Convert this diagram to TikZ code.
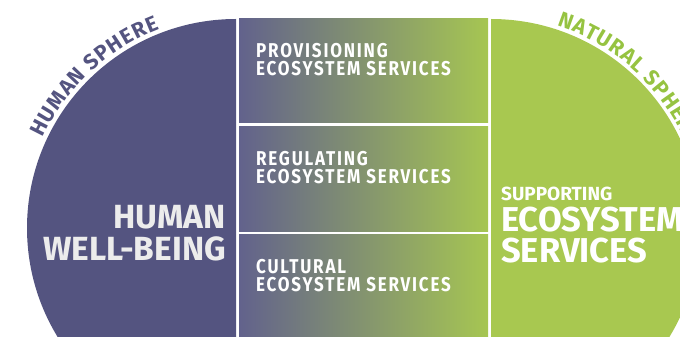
\documentclass[tikz,border=0pt]{standalone}
\usepackage{fontspec}
\setmainfont{Fira Sans}
\newfontfamily\svcfont[FakeStretch=0.85, LetterSpace=9]{Fira Sans}
\usetikzlibrary{decorations.text}
\definecolor{hpurple}{RGB}{84,84,128}
\definecolor{ngreen}{RGB}{168,200,80}
\definecolor{boxL}{RGB}{98,98,140}
\definecolor{boxR}{RGB}{166,198,82}
\definecolor{offwhite}{RGB}{236,236,236}
\definecolor{sgreen}{RGB}{150,195,65}
\begin{document}
\begin{tikzpicture}[x=1pt,y=1pt,
  svcbox/.style={left color=boxL, right color=boxR},
  svclabel/.style={anchor=north west, inner sep=0pt, align=left, text=white,
    font=\svcfont\bfseries\fontsize{20}{18.5}\selectfont},
  biglabel/.style={inner sep=0pt, font=\bfseries\fontsize{33.5}{32}\selectfont}
]
\useasboundingbox (0,0) rectangle (680,337);
\clip (0,0) rectangle (680,337);
% human sphere
\begin{scope}
  \clip (0,0) rectangle (236,337);
  \fill[hpurple] (236,109) circle (209);
\end{scope}
% natural sphere
\begin{scope}
  \clip (491,0) rectangle (680,337);
  \fill[ngreen] (491,109) circle (209);
\end{scope}
% service boxes
\shade[svcbox] (239,214) rectangle (488,318);
\shade[svcbox] (239,105) rectangle (488,210);
\shade[svcbox] (239,0) rectangle (488,102);
% labels
\node (prov) [svclabel] at (256,294) {PROVISIONING\\ECOSYSTEM SERVICES};
\node (reg)  [svclabel] at (256,186) {REGULATING\\ECOSYSTEM SERVICES};
\node (cult) [svclabel] at (256,78)  {CULTURAL\\ECOSYSTEM SERVICES};
\node (hwb) [biglabel, anchor=north east, align=right, text=offwhite] at (226,132) {HUMAN\\WELL-BEING};
\node (ses) [anchor=north west, inner sep=0pt, text=white, font=\bfseries] at (501,150)
  {\vtop{\hbox{\fontsize{19}{19}\selectfont SUPPORTING}\baselineskip=31pt
   \hbox{\fontsize{34.5}{31}\selectfont ECOSYSTEM}\hbox{\fontsize{34.5}{31}\selectfont SERVICES}}};
% curved sphere labels
\path[decorate, decoration={text along path, text align={fit to path},
  text={|\bfseries\fontsize{21.5}{21.5}\selectfont\color{hpurple}|HUMAN SPHERE}}]
  (236,109) ++(155:213) arc[start angle=155, end angle=111, radius=213];
\path[decorate, decoration={text along path, text align={fit to path},
  text={|\bfseries\fontsize{21.5}{21.5}\selectfont\color{sgreen}|NATURAL SPHERE}}]
  (491,109) ++(72:213) arc[start angle=72, end angle=23, radius=213];
\end{tikzpicture}
\end{document}
